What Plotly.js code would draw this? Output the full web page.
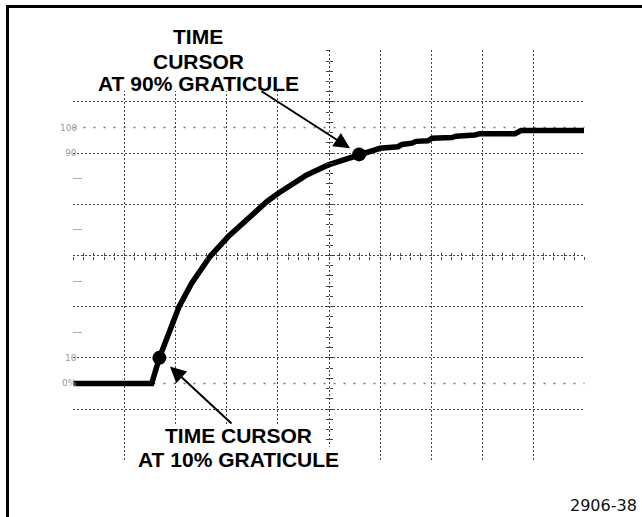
<!DOCTYPE html>
<html>
<head>
<meta charset="utf-8">
<script src="https://cdn.plot.ly/plotly-3.0.1.min.js"></script>
<style>html,body{margin:0;padding:0;background:#fff;}#chart{width:642px;height:517px;}</style>
</head>
<body>
<div id="chart"></div>
<script>
// Waveform: x in major divisions, y in percent of amplitude
const timeDiv = [0, 1.53, 1.68, 1.855, 2.065, 2.313, 2.671, 3.029, 3.395, 3.781, 4.008, 4.564, 4.986, 5.411, 5.59,
  5.802, 5.998, 6.35, 6.429, 6.624, 6.703, 6.937, 7.016, 7.407, 7.485, 7.857, 7.955, 8.64, 8.757, 9.99];
const amplitudePct = [0, 0, 10, 19.6, 30.0, 39.2, 49.6, 57.4, 64.3, 71.0, 74.3, 81.5, 85.4, 88.0, 89.5,
  90.6, 91.9, 92.5, 93.4, 93.9, 94.6, 94.8, 95.8, 96.1, 96.6, 97.1, 97.6, 97.6, 98.8, 98.8];
// Time cursor dots (10% and 90% points)
const cursorTime = [1.68, 5.59];
const cursorPct = [10, 89.5];
// Reference level markings on the graticule
const refLevels = [0, 100];
const levelValues = [100, 90, 10, 0];
const levelLabels = ['100', '90', '10', '0%'];
const minorLevels = [20, 40, 60, 80];
const topLabelLines = ['TIME', 'CURSOR', 'AT 90% GRATICULE'];
const bottomLabelLines = ['TIME CURSOR', 'AT 10% GRATICULE'];
const figureId = '2906-38';

const XR = [-0.01, 10.01];
const YR = [-30.3, 130.3];
const L = 73, R = 57, T = 50, B = 56, W = 642, H = 517;
const PW = W - L - R, PH = H - T - B;
const px = v => (v - L) / PW;          // pixel x -> paper
const py = v => (H - B - v) / PH;      // pixel y -> paper

const traces = [
  {type: 'scatter', mode: 'lines', x: timeDiv, y: amplitudePct,
   line: {color: '#000', width: 5.5}, hoverinfo: 'skip', showlegend: false},
  {type: 'scatter', mode: 'markers', x: cursorTime, y: cursorPct,
   marker: {color: '#000', size: 14}, hoverinfo: 'skip', showlegend: false},
  {type: 'scatter', x: [], y: [], xaxis: 'x2', yaxis: 'y', showlegend: false},
  {type: 'scatter', x: [], y: [], xaxis: 'x3', yaxis: 'y', showlegend: false},
  {type: 'scatter', x: [], y: [], xaxis: 'x', yaxis: 'y2', showlegend: false},
  {type: 'scatter', x: [], y: [], xaxis: 'x', yaxis: 'y3', showlegend: false}
];

const gridStyle = {showgrid: true, gridcolor: '#444', griddash: '2px,2px', gridwidth: 1,
  zeroline: false, showline: false, showticklabels: false, ticks: '', fixedrange: true};
const crossX = (t) => ({overlaying: 'x', anchor: 'free', position: 0.5, range: XR, tickmode: 'linear',
  tick0: 0, dtick: 0.2, ticks: t, ticklen: 3, tickwidth: 1, tickcolor: '#444',
  showgrid: false, zeroline: false, showline: false, showticklabels: false});
const crossY = (t) => ({overlaying: 'y', anchor: 'free', position: 0.5, side: 'left', range: YR, tickmode: 'linear',
  tick0: 10, dtick: 4, ticks: t, ticklen: 3, tickwidth: 1, tickcolor: '#444',
  showgrid: false, zeroline: false, showline: false, showticklabels: false});

const shapes = [];
refLevels.forEach(v => shapes.push({type: 'line', xref: 'x', yref: 'y', x0: 0, x1: 10, y0: v, y1: v,
  line: {color: '#777', width: 1.5, dash: '2px,8px'}, layer: 'below'}));
// white areas behind the labels, where the graticule is not visible
shapes.push({type: 'rect', xref: 'paper', yref: 'paper', x0: px(91), x1: px(305), y0: py(91), y1: py(38),
  fillcolor: '#fff', line: {width: 0}, layer: 'above'});
shapes.push({type: 'rect', xref: 'paper', yref: 'paper', x0: px(163), x1: px(313), y0: py(447), y1: py(424),
  fillcolor: '#fff', line: {width: 0}, layer: 'above'});
shapes.push({type: 'rect', xref: 'paper', yref: 'paper', x0: px(132), x1: px(344), y0: py(472), y1: py(447),
  fillcolor: '#fff', line: {width: 0}, layer: 'above'});
// outer frame (left and top edges)
shapes.push({type: 'line', xref: 'paper', yref: 'paper', x0: px(7.5), x1: px(7.5), y0: py(517), y1: py(5),
  line: {color: '#000', width: 3}, layer: 'above'});
shapes.push({type: 'line', xref: 'paper', yref: 'paper', x0: px(6), x1: px(642), y0: py(6.5), y1: py(6.5),
  line: {color: '#000', width: 3}, layer: 'above'});

const labelFont = {family: 'Liberation Sans, Arial, sans-serif', size: 21, color: '#000'};
const annotations = [];
const topY = [36.8, 61.8, 83.5];
topLabelLines.forEach((t, i) => annotations.push({xref: 'paper', yref: 'paper', x: px(198), y: py(topY[i]),
  text: '<b>' + t + '</b>', showarrow: false, xanchor: 'center', yanchor: 'middle', font: labelFont}));
const botY = [435.8, 459.2];
bottomLabelLines.forEach((t, i) => annotations.push({xref: 'paper', yref: 'paper', x: px(238), y: py(botY[i]),
  text: '<b>' + t + '</b>', showarrow: false, xanchor: 'center', yanchor: 'middle', font: labelFont}));
// arrows pointing at the cursor dots
annotations.push({xref: 'x', yref: 'y', x: 5.411, y: 91.9, ax: -90, ay: -58, text: '', showarrow: true,
  arrowhead: 2, arrowsize: 1.6, arrowwidth: 2, arrowcolor: '#000', standoff: 0});
annotations.push({xref: 'x', yref: 'y', x: 1.888, y: 6.64, ax: 63, ay: 58.5, text: '', showarrow: true,
  arrowhead: 2, arrowsize: 1.6, arrowwidth: 2, arrowcolor: '#000', standoff: 0});
levelValues.forEach((v, i) => annotations.push({xref: 'paper', yref: 'y', x: px(79), y: v,
  text: levelLabels[i], showarrow: false, xanchor: 'right', yanchor: 'middle',
  font: {family: 'DejaVu Sans, sans-serif', size: 9, color: '#999'}}));
annotations.push({xref: 'paper', yref: 'paper', x: px(639), y: py(505), text: figureId, showarrow: false,
  xanchor: 'right', yanchor: 'middle', font: {family: 'DejaVu Sans, sans-serif', size: 16, color: '#111'}});

const layout = {
  width: W, height: H, margin: {l: L, r: R, t: T, b: B, pad: 0},
  paper_bgcolor: '#fff', plot_bgcolor: '#fff', showlegend: false,
  xaxis: Object.assign({range: XR, tickmode: 'linear', tick0: 0, dtick: 1}, gridStyle),
  yaxis: Object.assign({range: YR, tickmode: 'linear', tick0: 10, dtick: 20,
    minor: {tickmode: 'array', tickvals: minorLevels, ticks: 'inside', ticklen: 9, tickwidth: 1,
      tickcolor: '#aaa', showgrid: false}}, gridStyle),
  xaxis2: crossX('inside'), xaxis3: crossX('outside'),
  yaxis2: crossY('inside'), yaxis3: crossY('outside'),
  shapes: shapes, annotations: annotations
};

Plotly.newPlot('chart', traces, layout, {displayModeBar: false, staticPlot: true});
</script>
</body>
</html>
